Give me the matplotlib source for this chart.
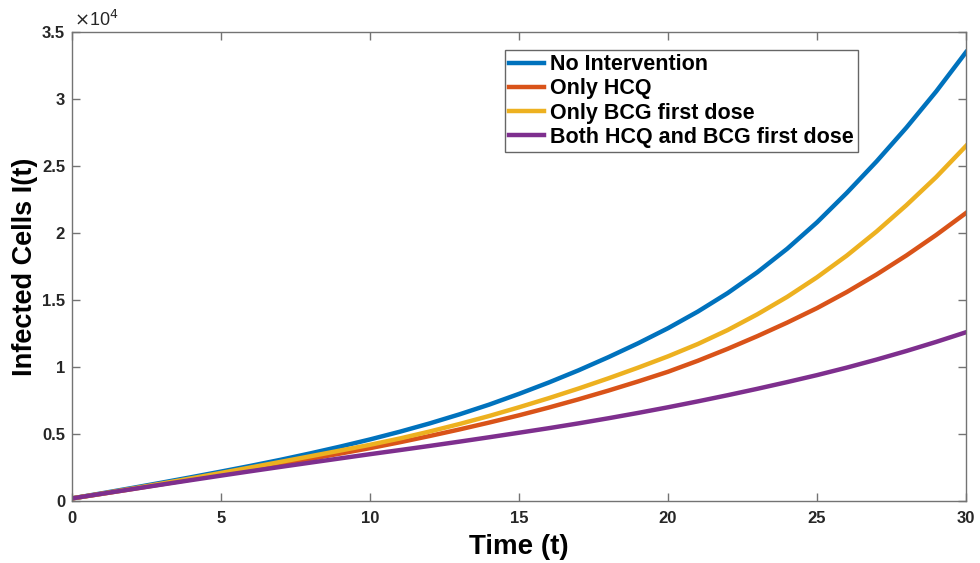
import matplotlib.pyplot as plt
from matplotlib.ticker import FuncFormatter

# time points and infected cells
t = list(range(0, 31))
no_intervention = [200, 580, 970, 1370, 1780, 2200, 2630, 3080, 3560, 4065, 4600,
                   5175, 5795, 6470, 7200, 8000, 8850, 9760, 10740, 11780, 12900,
                   14140, 15520, 17080, 18830, 20800, 23000, 25350, 27870, 30570, 33500]
only_hcq = [200, 540, 890, 1250, 1620, 2000, 2375, 2760, 3150, 3545, 3950,
            4390, 4855, 5345, 5860, 6400, 6980, 7595, 8245, 8930, 9650,
            10470, 11360, 12310, 13320, 14400, 15600, 16910, 18330, 19860, 21500]
only_bcg = [200, 555, 923, 1303, 1695, 2100, 2510, 2925, 3345, 3770, 4200,
            4670, 5190, 5750, 6350, 7000, 7680, 8400, 9160, 9960, 10800,
            11720, 12760, 13940, 15240, 16700, 18320, 20120, 22080, 24180, 26500]
both = [200, 545, 887, 1227, 1565, 1900, 2230, 2552, 2870, 3185, 3500,
        3805, 4115, 4435, 4763, 5100, 5440, 5800, 6180, 6580, 7000,
        7440, 7900, 8380, 8880, 9400, 9960, 10560, 11200, 11880, 12600]

labels = ['No Intervention', 'Only HCQ', 'Only BCG first dose', 'Both HCQ and BCG first dose']
colors = ['#0072BD', '#D95319', '#EDB120', '#7E2F8E']

plt.rcParams['font.family'] = ['Liberation Sans', 'DejaVu Sans']

fig = plt.figure(figsize=(9.8, 5.63), dpi=100, facecolor='white')
ax = fig.add_axes([0.0735, 0.110, 0.9122, 0.833])

for y, lab, c in zip([no_intervention, only_hcq, only_bcg, both], labels, colors):
    ax.plot(t, y, color=c, lw=3.2, label=lab)

ax.set_xlim(0, 30)
ax.set_ylim(0, 35000)
ax.set_xticks(range(0, 31, 5))
ax.set_yticks([i * 5000 for i in range(8)])
ax.yaxis.set_major_formatter(FuncFormatter(lambda v, p: '%g' % (v / 1e4)))

ax.tick_params(direction='in', length=6, width=1, color='0.45', top=True, right=True,
               labelsize=12, pad=5)
ax.tick_params(axis='x', pad=7)
for lb in ax.get_xticklabels() + ax.get_yticklabels():
    lb.set_fontweight('bold')
    lb.set_color('#262626')
for sp in ax.spines.values():
    sp.set_color('0.45')
    sp.set_linewidth(1)

ax.text(0.002, 1.005, r'$\times$10$^{4}$', transform=ax.transAxes, fontsize=13,
        ha='left', va='bottom', color='#262626')

ax.set_xlabel('Time (t)', fontsize=20, fontweight='bold', labelpad=6)
ax.set_ylabel('Infected Cells I(t)', fontsize=19.5, fontweight='bold', labelpad=3)

leg = ax.legend(loc='upper right', bbox_to_anchor=(0.879, 0.962),
                prop={'weight': 'bold', 'size': 15.5}, fancybox=False, framealpha=1,
                edgecolor='0.4', handlelength=1.65, handletextpad=0.25,
                labelspacing=0.15, borderpad=0.2, borderaxespad=0)
leg.get_frame().set_linewidth(1)

fig.savefig('out.png', dpi=100, facecolor='white')
